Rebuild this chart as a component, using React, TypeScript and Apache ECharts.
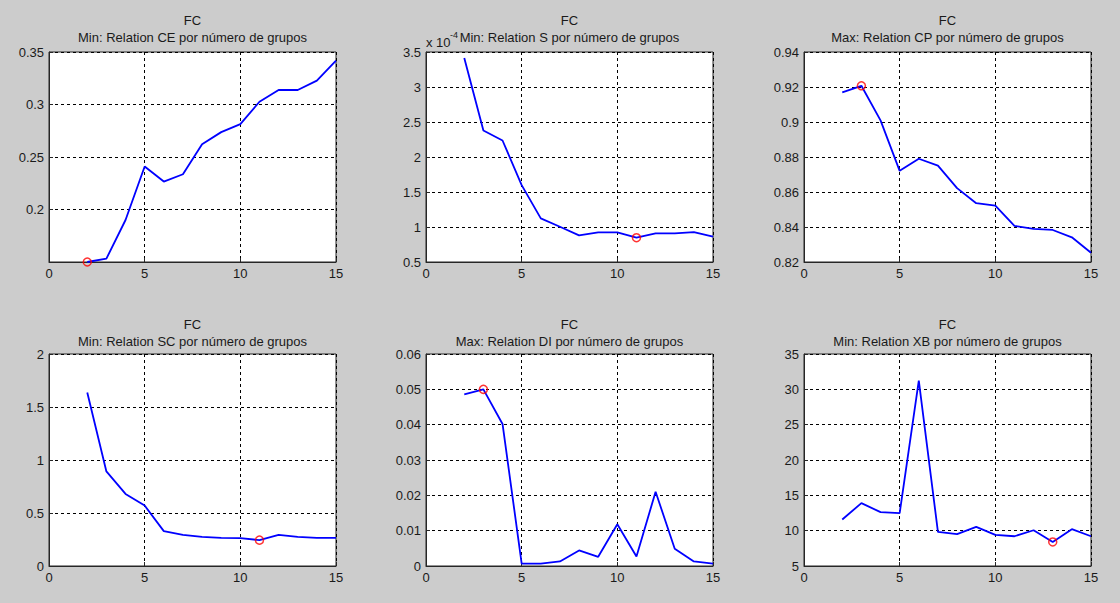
import React, { useEffect, useRef } from "react";
import * as echarts from "echarts";

const xValues = [2, 3, 4, 5, 6, 7, 8, 9, 10, 11, 12, 13, 14, 15];

const ceValues = [0.150, 0.1532, 0.190, 0.241, 0.2266, 0.2336, 0.2622, 0.2737, 0.2813, 0.3026, 0.3138, 0.3138, 0.3227, 0.3417];
const sValues = [3.415, 2.378, 2.236, 1.598, 1.123, 1.004, 0.880, 0.923, 0.923, 0.847, 0.909, 0.909, 0.928, 0.861]; // x 10^-4
const cpValues = [0.9169, 0.9207, 0.9009, 0.8721, 0.8790, 0.8751, 0.8622, 0.8536, 0.8522, 0.8406, 0.8389, 0.8383, 0.8341, 0.8253];
const scValues = [1.636, 0.892, 0.680, 0.570, 0.329, 0.294, 0.275, 0.266, 0.263, 0.244, 0.294, 0.275, 0.266, 0.266];
const diValues = [0.0486, 0.0500, 0.0402, 0.0007, 0.0007, 0.0013, 0.0044, 0.0026, 0.0118, 0.0027, 0.0210, 0.0049, 0.0013, 0.0007];
const xbValues = [11.58, 13.90, 12.62, 12.48, 31.22, 9.83, 9.50, 10.54, 9.40, 9.21, 10.06, 8.40, 10.21, 9.21];

const titles = [
  "Min: Relation CE por número de grupos",
  "Min: Relation S por número de grupos",
  "Max: Relation CP por número de grupos",
  "Min: Relation SC por número de grupos",
  "Max: Relation DI por número de grupos",
  "Min: Relation XB por número de grupos",
];
const optimumX = [2, 11, 3, 11, 3, 13];
const yMin = [0.15, 0.5, 0.82, 0, 0, 5];
const yMax = [0.35, 3.5, 0.94, 2, 0.06, 35];
const yInterval = [0.05, 0.5, 0.02, 0.5, 0.01, 5];
const xTicks = { min: 0, max: 15, interval: 5 };

export default function App() {
  const ref = useRef<HTMLDivElement>(null);
  useEffect(() => {
    document.body.style.margin = "0";
    if (!ref.current) return;
    const chart = echarts.init(ref.current, null, { renderer: "svg" });
    const seriesData = [ceValues, sValues, cpValues, scValues, diValues, xbValues];
    const colLeft = [49, 426, 804];
    const rowTop = [52, 354];
    const rowH = [210, 212];
    const W = 287;
    const font = "'Liberation Sans', Arial, sans-serif";
    const grids: any[] = [];
    const xAxes: any[] = [];
    const yAxes: any[] = [];
    const series: any[] = [];
    const graphics: any[] = [];
    const dash = { color: "#000000", type: [3, 3], width: 1 };
    for (let i = 0; i < 6; i++) {
      const r = Math.floor(i / 3);
      const c = i % 3;
      grids.push({
        left: colLeft[c],
        top: rowTop[r],
        width: W,
        height: rowH[r],
        show: true,
        backgroundColor: "#ffffff",
        borderColor: "#262626",
        borderWidth: 1,
      });
      xAxes.push({
        type: "value",
        gridIndex: i,
        min: xTicks.min,
        max: xTicks.max,
        interval: xTicks.interval,
        axisLine: { show: true, onZero: false, lineStyle: { color: "#262626", width: 1 } },
        axisTick: { show: true, inside: true, length: 4, lineStyle: { color: "#262626" } },
        axisLabel: { color: "#1a1a1a", fontSize: 13, fontFamily: font, margin: 5 },
        splitLine: { show: true, lineStyle: dash },
      });
      const hideMin = i === 0;
      const minV = yMin[i];
      yAxes.push({
        type: "value",
        gridIndex: i,
        min: yMin[i],
        max: yMax[i],
        interval: yInterval[i],
        axisLine: { show: true, onZero: false, lineStyle: { color: "#262626", width: 1 } },
        axisTick: { show: true, inside: true, length: 4, lineStyle: { color: "#262626" } },
        axisLabel: {
          color: "#1a1a1a",
          fontSize: 13,
          fontFamily: font,
          margin: 5,
          formatter: (v: number) => (hideMin && Math.abs(v - minV) < 1e-9 ? "" : String(parseFloat(v.toFixed(4)))),
        },
        splitLine: { show: true, lineStyle: dash },
      });
      const data = xValues.map((x, k) => [x, seriesData[i][k]]);
      series.push({
        type: "line",
        xAxisIndex: i,
        yAxisIndex: i,
        data,
        showSymbol: false,
        lineStyle: { color: "#0000ff", width: 1.8 },
        z: 3,
      });
      const oi = xValues.indexOf(optimumX[i]);
      series.push({
        type: "scatter",
        xAxisIndex: i,
        yAxisIndex: i,
        data: [[optimumX[i], seriesData[i][oi]]],
        symbol: "circle",
        symbolSize: 8,
        itemStyle: { color: "rgba(0,0,0,0)", borderColor: "#ff0000", borderWidth: 1.5 },
        z: 4,
      });
      const cx = colLeft[c] + W / 2;
      const ty = r === 0 ? 20 : 324;
      graphics.push({
        type: "text",
        x: cx,
        y: ty,
        style: { text: "FC", fill: "#1a1a1a", font: `13px ${font}`, textAlign: "center", textVerticalAlign: "middle" },
      });
      graphics.push({
        type: "text",
        x: cx,
        y: ty + 17,
        style: { text: titles[i], fill: "#1a1a1a", font: `13px ${font}`, textAlign: "center", textVerticalAlign: "middle" },
      });
    }
    graphics.push({
      type: "text",
      x: 426,
      y: 42,
      style: { text: "x 10", fill: "#1a1a1a", font: `13px ${font}`, textAlign: "left", textVerticalAlign: "middle" },
    });
    graphics.push({
      type: "text",
      x: 450,
      y: 35,
      style: { text: "-4", fill: "#1a1a1a", font: `9px ${font}`, textAlign: "left", textVerticalAlign: "middle" },
    });
    chart.setOption({
      animation: false,
      backgroundColor: "#cccccc",
      grid: grids,
      xAxis: xAxes,
      yAxis: yAxes,
      series,
      graphic: graphics,
    });
    return () => chart.dispose();
  }, []);
  return <div ref={ref} style={{ width: 1120, height: 603, background: "#cccccc" }} />;
}
